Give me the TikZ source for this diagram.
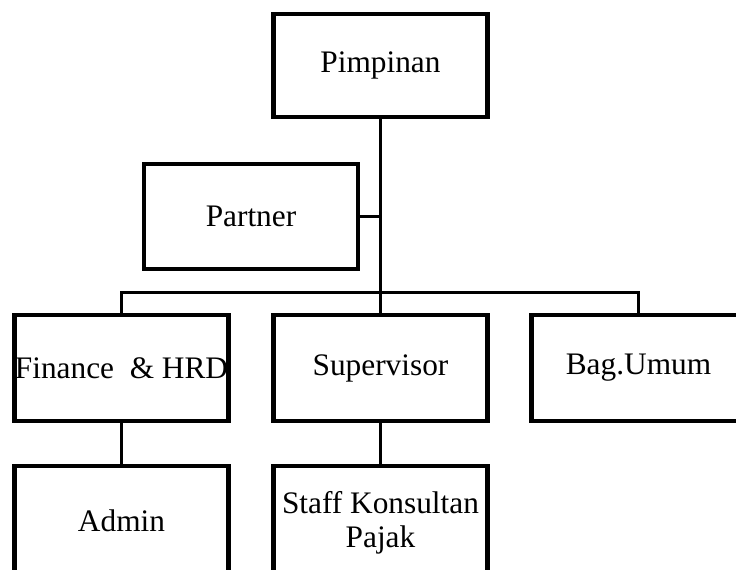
\documentclass[tikz,border=0pt]{standalone}
\usepackage{fontspec}
\setmainfont{Liberation Serif}
\begin{document}
\begin{tikzpicture}[x=0.75pt,y=-0.75pt,
  orgbox/.style={draw=black, line width=3.6pt, rectangle, inner sep=0pt,
    minimum width=160.5pt, minimum height=79.5pt, align=center,
    font=\fontsize{23.5}{25.5}\selectfont},
  conn/.style={draw=black, line width=2.4pt}]
\useasboundingbox (0,0) rectangle (736,570);
\clip (0,0) rectangle (736,570);
\node[orgbox, minimum height=77.25pt] (pim) at (380.5,65.5) {Pimpinan};
\node[orgbox, minimum height=78.75pt] (par) at (251,216.5) {Partner};
\node[orgbox] (fin) at (121.5,368) {Finance~~\& HRD};
\node[orgbox] (sup) at (380.5,368) {Supervisor};
\node[orgbox] (bag) at (638.5,368) {Bag.Umum};
\node[orgbox, minimum height=82.5pt] (adm) at (121.5,521) {Admin};
\node[orgbox, minimum height=85.5pt] (stf) at (380.5,523) {Staff Konsultan\\Pajak};
\coordinate (bus) at (380.5,292.5);
\coordinate (pj) at (380.5,216.5);
\draw[conn] (pim.south) -- (bus);
\draw[conn] (par.east) -- (pj);
\draw[conn] (fin.north) -- (fin.north |- bus) -- (bag.north |- bus) -- (bag.north);
\draw[conn] (bus) -- (sup.north);
\draw[conn] (fin.south) -- (adm.north);
\draw[conn] (sup.south) -- (stf.north);
\end{tikzpicture}
\end{document}
